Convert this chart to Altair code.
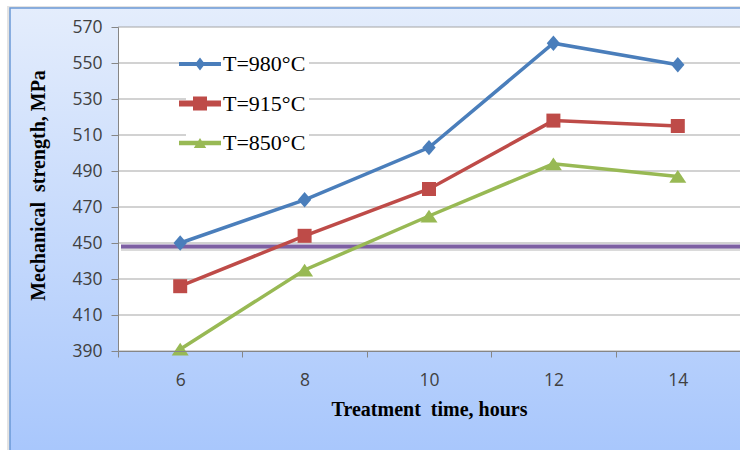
import altair as alt
import pandas as pd

# Treatment time (hours) and measured mechanical strength (MPa) per temperature
hours = [6, 8, 10, 12, 14]
strength_980 = [450, 474, 503, 561, 549]
strength_915 = [426, 454, 480, 518, 515]
strength_850 = [391, 435, 465, 494, 487]

series_names = ["T=980°C", "T=915°C", "T=850°C"]
series_colors = ["#4a7ebb", "#be4b48", "#98b954"]

y_ticks = [390, 410, 430, 450, 470, 490, 510, 530, 550, 570]
threshold = [448]

rows = []
for name, values in zip(series_names, [strength_980, strength_915, strength_850]):
    for h, v in zip(hours, values):
        rows.append({"hours": h, "strength": v, "series": name})
df = pd.DataFrame(rows)

W, H = 622, 324
PAD_L, PAD_T = 118, 27

y_enc = alt.Y(
    "strength:Q",
    scale=alt.Scale(domain=[390, 570], nice=False, zero=False),
    axis=alt.Axis(
        values=y_ticks,
        grid=False,
        zindex=1,
        title="Mechanical\u00a0 strength, MPa",
        titleFont="Liberation Serif",
        titleFontWeight="bold",
        titleFontSize=20,
        titleColor="black",
        titleX=-70,
        titleY=158,
        labelFont="Open Sans",
        labelFontSize=17.5,
        labelColor="#404040",
        labelPadding=9,
        tickSize=7,
        tickColor="#868686",
        domainColor="#868686",
    ),
)

x_enc = alt.X(
    "hours:O",
    scale=alt.Scale(type="band", paddingInner=0, paddingOuter=0),
    axis=alt.Axis(
        labelAngle=0,
        tickBand="extent",
        grid=False,
        zindex=1,
        title="Treatment\u00a0 time, hours",
        titleFont="Liberation Serif",
        titleFontWeight="bold",
        titleFontSize=20,
        titleColor="black",
        titleY=48,
        labelFont="Open Sans",
        labelFontSize=17.5,
        labelColor="#404040",
        labelPadding=14,
        tickSize=6,
        tickColor="#868686",
        domainColor="#868686",
    ),
)

one = pd.DataFrame({"k": [0]})

# outer frame with a soft blue gradient
frame_gradient = alt.LinearGradient(
    gradient="linear",
    stops=[
        alt.GradientStop(color="#e4edfc", offset=0),
        alt.GradientStop(color="#a7c6fc", offset=1),
    ],
    x1=0, x2=0, y1=0, y2=1,
)
frame_shadow = alt.Chart(one).mark_rect(
    fill="#d0d0d0", opacity=0.6
).encode(
    x=alt.value(-PAD_L + 7), y=alt.value(-PAD_T + 6),
    x2=alt.value(W + 20), y2=alt.value(H + 110),
)
frame = alt.Chart(one).mark_rect(
    color=frame_gradient, stroke="#6b99d6", strokeWidth=1.5
).encode(
    x=alt.value(-PAD_L + 10), y=alt.value(-PAD_T + 8),
    x2=alt.value(W + 20), y2=alt.value(H + 110),
)
plot_bg = alt.Chart(one).mark_rect(fill="white").encode(
    x=alt.value(0), y=alt.value(0), x2=alt.value("width"), y2=alt.value("height")
)

grid = alt.Chart(pd.DataFrame({"strength": y_ticks})).mark_rule(
    color="#a6a6a6", strokeWidth=1.2
).encode(y=y_enc)

limit_shadow = alt.Chart(pd.DataFrame({"strength": threshold})).mark_rule(
    color="#555555", strokeWidth=3, opacity=0.22, yOffset=3
).encode(y=y_enc, x=alt.value(3), x2=alt.value("width"))
limit_line = alt.Chart(pd.DataFrame({"strength": threshold})).mark_rule(
    color="#7d5fa3", strokeWidth=4
).encode(y=y_enc, x=alt.value(3), x2=alt.value("width"))

marker_paths = {
    "T=980°C": ("M0,-1.1L0.95,0L0,1.1L-0.95,0Z", 196),
    "T=915°C": ("square", 196),
    "T=850°C": ("M0,-0.75L1,0.75L-1,0.75Z", 289),
}

series_layers = []
for name, col in zip(series_names, series_colors):
    base = alt.Chart(df).transform_filter(alt.datum.series == name)
    series_layers.append(
        base.mark_line(strokeWidth=3.5, color=col).encode(x=x_enc, y=y_enc)
    )
for name, col in zip(series_names, series_colors):
    shape, size = marker_paths[name]
    base = alt.Chart(df).transform_filter(alt.datum.series == name)
    series_layers.append(
        base.mark_point(
            shape=shape, size=size, filled=True, opacity=1, strokeWidth=0, color=col
        ).encode(x=x_enc, y=y_enc)
    )

# legend symbols: line segment with the series marker on it
legend_paths = [
    "M-2.1,-0.2H2.1V0.2H-2.1Z M0,-0.65L0.5,0L0,0.65L-0.5,0Z",
    "M-2.1,-0.3H2.1V0.3H-2.1Z M-0.7,-0.7H0.7V0.7H-0.7Z",
    "M-2.1,-0.22H2.1V0.22H-2.1Z M0,-0.5L0.62,0.5H-0.62Z",
]
legend_props = dict(
    orient="none",
    legendX=68,
    legendY=23,
    title=None,
    labelFont="Liberation Serif",
    labelFontSize=22,
    labelColor="black",
    labelOffset=12,
    symbolSize=400,
    symbolStrokeWidth=0,
    symbolOpacity=1,
    rowPadding=17.5,
    fillColor="white",
    padding=3,
)
legend_layer = alt.Chart(df).mark_point(filled=True, opacity=0, size=1).encode(
    x=x_enc, y=y_enc,
    color=alt.Color(
        "series:N",
        scale=alt.Scale(domain=series_names, range=series_colors),
        legend=alt.Legend(**legend_props),
    ),
    shape=alt.Shape(
        "series:N",
        scale=alt.Scale(domain=series_names, range=legend_paths),
        legend=alt.Legend(**legend_props),
    ),
)

chart = alt.layer(
    frame_shadow, frame, plot_bg, grid, limit_shadow, limit_line,
    *series_layers, legend_layer,
).properties(
    width=W, height=H,
    padding={"left": PAD_L, "top": PAD_T, "right": 0, "bottom": 450 - PAD_T - H},
    autosize=alt.AutoSizeParams(type="none"),
    background="white",
).configure_view(stroke=None)

chart.save("out.html", embed_options={"renderer": "svg", "actions": False})
